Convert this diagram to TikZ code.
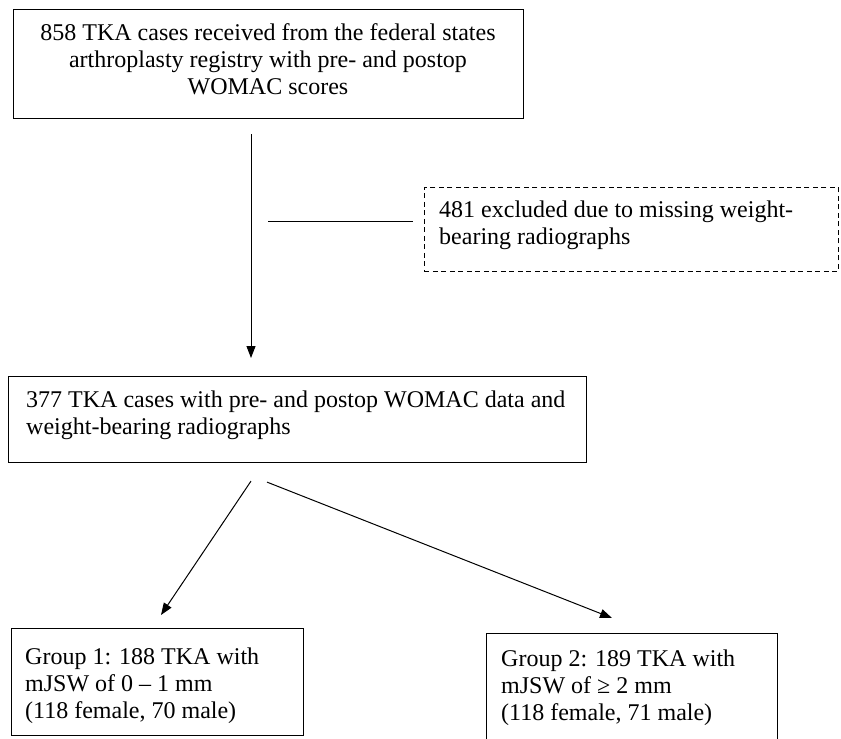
\documentclass[tikz,border=0pt]{standalone}
\usepackage{fontspec}
\setmainfont{Liberation Serif}
\usetikzlibrary{arrows.meta,calc}
\begin{document}
\begin{tikzpicture}[x=1pt,y=-1pt,
  box/.style={draw, line width=1.1pt, inner sep=0pt, anchor=north west},
  dbox/.style={draw, line width=0.9pt, dash pattern=on 5pt off 3.5pt, inner sep=0pt, anchor=north west},
  txt/.style={inner sep=0pt, anchor=base west, font=\fontsize{24pt}{27.3pt}\selectfont},
  arr/.style={line width=1pt, -{Triangle[length=12pt,width=9pt]}},
  ln/.style={line width=1pt}]
\useasboundingbox[fill=white] (0,0) rectangle (841,739);
% boxes
\node[box, minimum width=510pt, minimum height=109pt] (top) at (13,9) {};
\node[dbox, minimum width=414pt, minimum height=84pt] (excl) at (424,187) {};
\node[box, minimum width=578pt, minimum height=86pt] (mid) at (8,376) {};
\node[box, minimum width=292pt, minimum height=107pt] (g1) at (11,628) {};
\node[box, minimum width=291pt, minimum height=108pt] (g2) at (486,633) {};
% texts
\node[txt, anchor=base] (toptxt) at (268,40) {\parbox[t]{500pt}{\centering 858 TKA cases received from the federal states\\ arthroplasty registry with pre- and postop\\ WOMAC scores}};
\node[txt] (excltxt) at (439,217) {\parbox[t]{395pt}{\raggedright 481 excluded due to missing weight-\\ bearing radiographs}};
\node[txt] (midtxt) at (26,407) {\parbox[t]{556pt}{\raggedright 377 TKA cases with pre- and postop WOMAC data and\\ weight-bearing radiographs}};
\node[txt] (g1txt) at (25,664) {\parbox[t]{275pt}{\raggedright Group 1: 188 TKA with\\ mJSW of 0 – 1 mm\\ (118 female, 70 male)}};
\node[txt] (g2txt) at (501,666) {\parbox[t]{275pt}{\raggedright Group 2: 189 TKA with\\ mJSW of ≥ 2 mm\\ (118 female, 71 male)}};
% connectors
\draw[arr] ($(top.south west)+(238,15)$) -- ($(mid.north west)+(243,-18)$);
\coordinate (j) at (268,221);
\draw[ln] (j) -- ($(excl.north west)+(-11,34)$);
\draw[arr] ($(mid.south west)+(243,18)$) -- ($(g1.north west)+(150,-13)$);
\draw[arr] ($(mid.south west)+(259,19)$) -- ($(g2.north west)+(126,-15)$);
\end{tikzpicture}
\end{document}
